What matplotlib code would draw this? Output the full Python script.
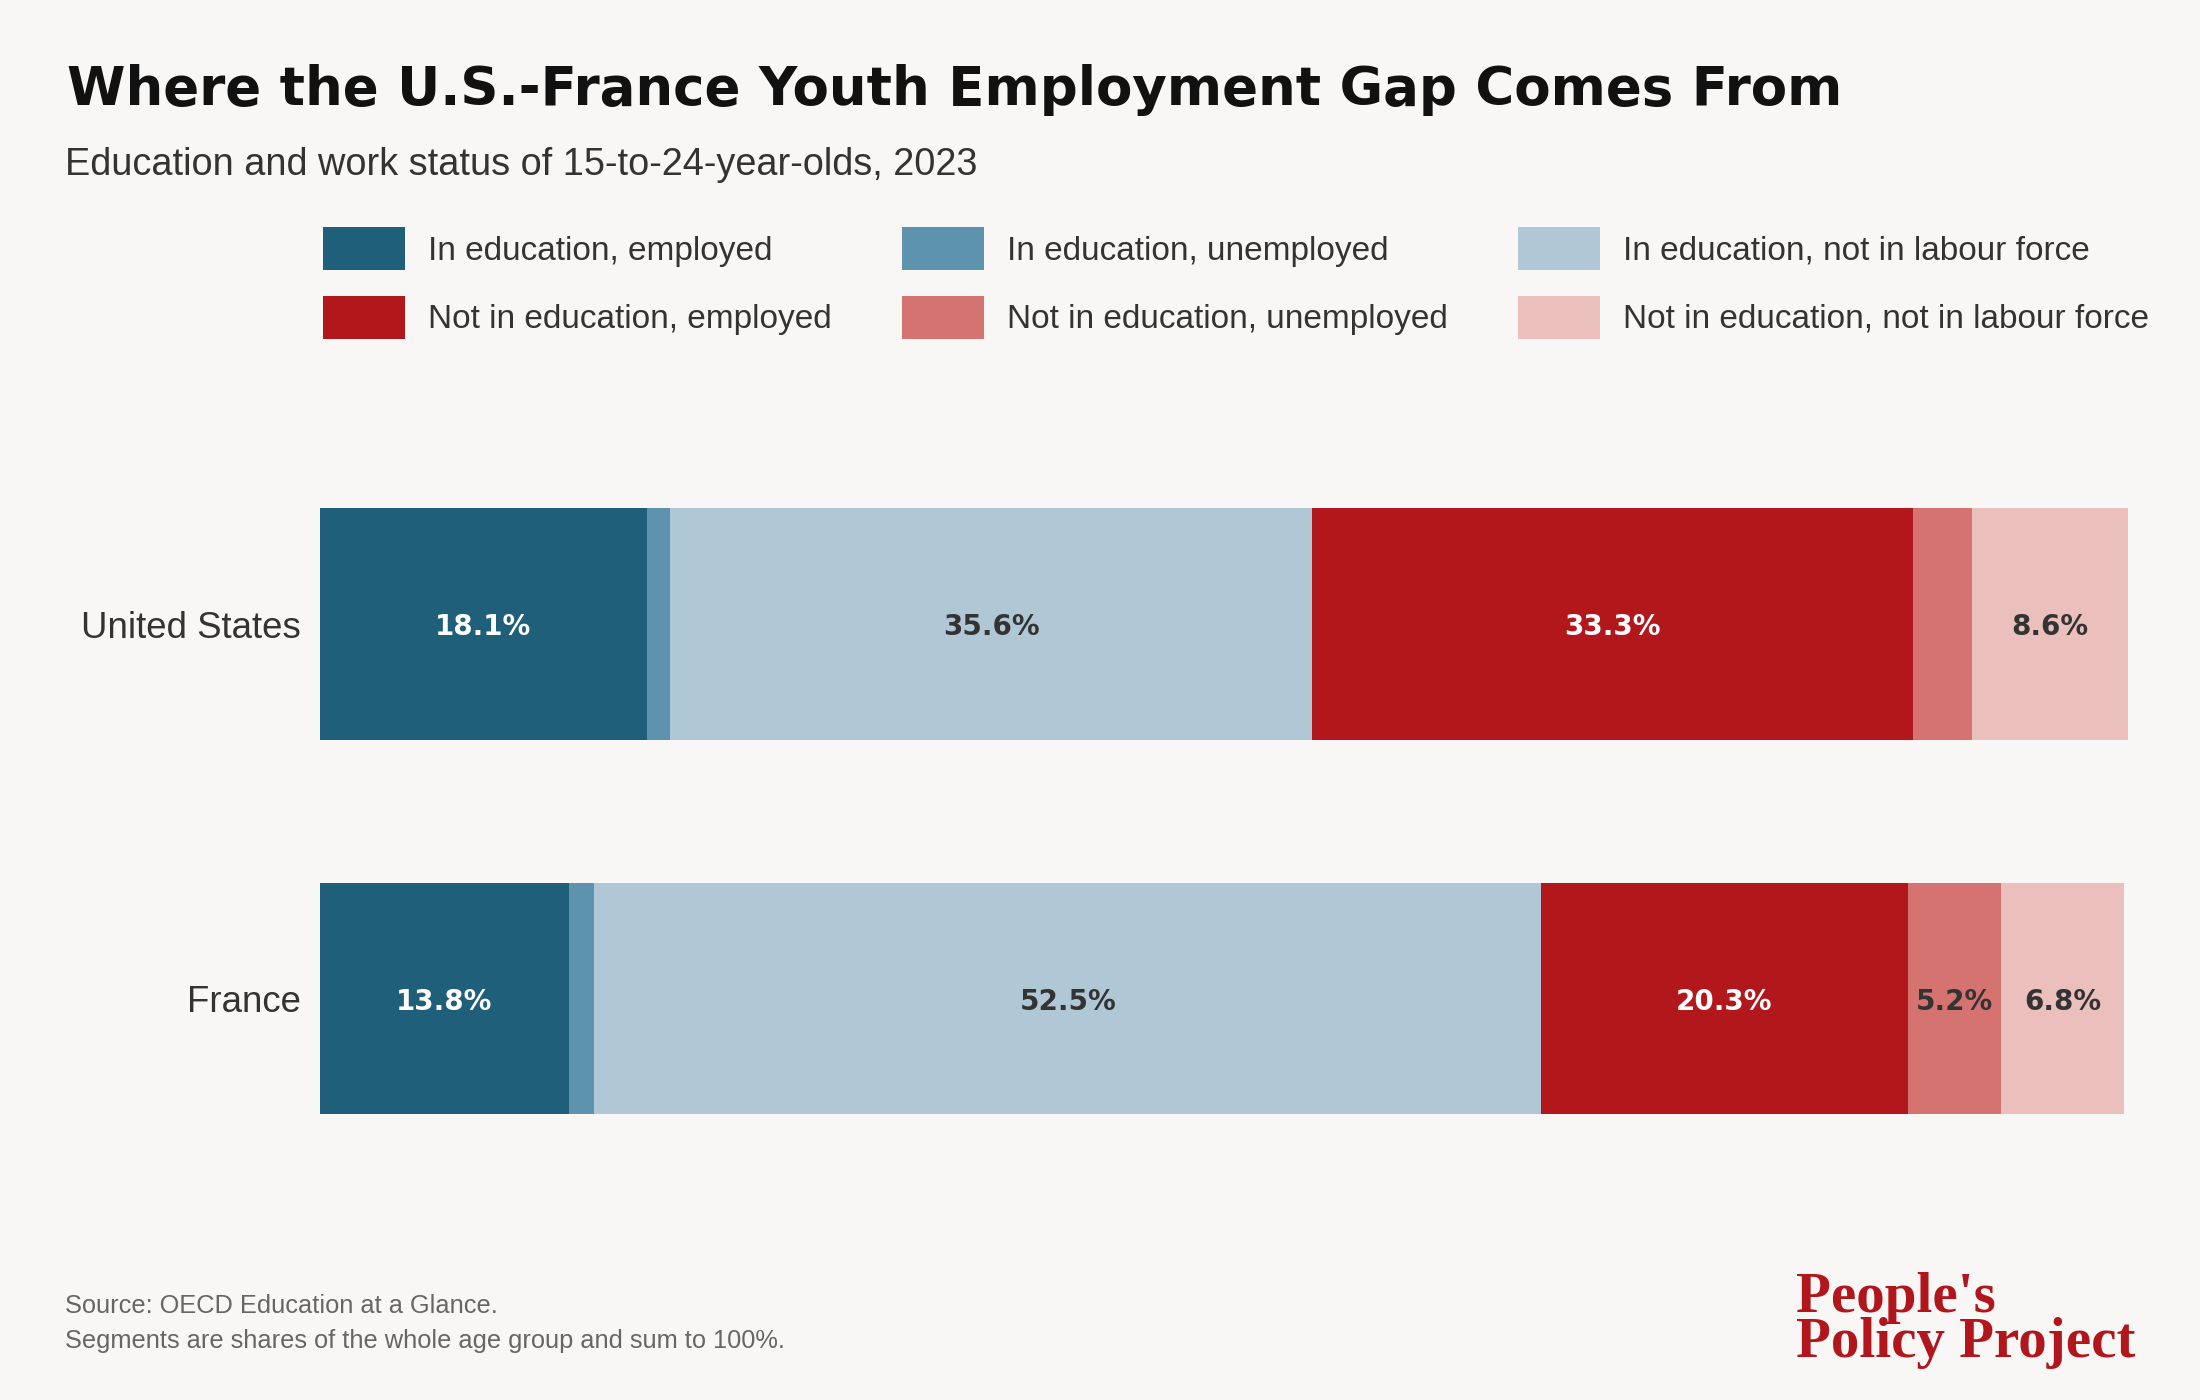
import matplotlib.pyplot as plt
from matplotlib.patches import Rectangle
import numpy as np

# data (shares of 15-24 year olds, 2023)
countries = ['United States', 'France']
categories = ['In education, employed', 'In education, unemployed',
              'In education, not in labour force', 'Not in education, employed',
              'Not in education, unemployed', 'Not in education, not in labour force']
us_values = [18.1, 1.3, 35.6, 33.3, 3.3, 8.6]
fr_values = [13.8, 1.4, 52.5, 20.3, 5.2, 6.8]

colors = ['#1f5f7a', '#5e93ae', '#b0c8d5', '#b2171b', '#d57371', '#ebbfbc']
label_colors = ['white', '#333333', '#333333', 'white', '#333333', '#333333']
bg = '#f8f7f5'

W, H = 2200, 1400
fig = plt.figure(figsize=(22, 14), dpi=100, facecolor=bg)

# axes placed so bars land where they should
ax = fig.add_axes([320 / W, 1 - 1223.2 / H, 1807.6 / W, 823.9 / H])
ax.set_facecolor(bg)

values = np.array([us_values, fr_values])
ypos = np.arange(len(countries))
left = np.zeros(len(countries))
for j, cat in enumerate(categories):
    vals = values[:, j]
    ax.barh(ypos, vals, left=left, height=0.618, color=colors[j], linewidth=0)
    for i, v in enumerate(vals):
        if v >= 5:
            ax.text(left[i] + v / 2, ypos[i], f'{v:.1f}%', ha='center',
                    va='center_baseline', fontsize=20, fontweight='bold',
                    color=label_colors[j], family='DejaVu Sans')
    left += vals

ax.set_xlim(0, values.sum(axis=1).max())
ax.set_ylim(1.6, -0.6)
ax.set_yticks(ypos)
ax.set_yticklabels(countries, fontsize=26.4, color='#333333', family='Liberation Sans')
ax.tick_params(axis='y', length=0, pad=14)
ax.set_xticks([])
for s in ax.spines.values():
    s.set_visible(False)

# title and subtitle
fig.text(67 / W, 1 - 105 / H, 'Where the U.S.-France Youth Employment Gap Comes From',
         fontsize=38.2, fontweight='bold', color='#111111', family='DejaVu Sans',
         va='baseline')
fig.text(65 / W, 1 - 175 / H, 'Education and work status of 15-to-24-year-olds, 2023',
         fontsize=27.3, color='#333333', family='Liberation Sans', va='baseline')

# legend, 3 columns x 2 rows
col_x = [323, 902, 1518]
row_top = [227, 296]
row_base = [260, 328]
for j, cat in enumerate(categories):
    c = j % 3
    r = j // 3
    fig.add_artist(Rectangle((col_x[c] / W, 1 - (row_top[r] + 43) / H), 82 / W, 43 / H,
                             transform=fig.transFigure, facecolor=colors[j],
                             edgecolor='none'))
    fig.text((col_x[c] + 105) / W, 1 - row_base[r] / H, cat, fontsize=24,
             color='#333333', family='Liberation Sans', va='baseline')

# footer
fig.text(65 / W, 1 - 1313 / H, 'Source: OECD Education at a Glance.',
         fontsize=18.3, color='#666666', family='Liberation Sans', va='baseline')
fig.text(65 / W, 1 - 1348 / H, 'Segments are shares of the whole age group and sum to 100%.',
         fontsize=18.3, color='#666666', family='Liberation Sans', va='baseline')
fig.text(1796 / W, 1 - 1357 / H, "People's\nPolicy Project", fontsize=41,
         fontweight='bold', color='#b0161c', family='Liberation Serif',
         va='baseline', linespacing=0.83)

fig.savefig('out.png', dpi=100, facecolor=bg)
